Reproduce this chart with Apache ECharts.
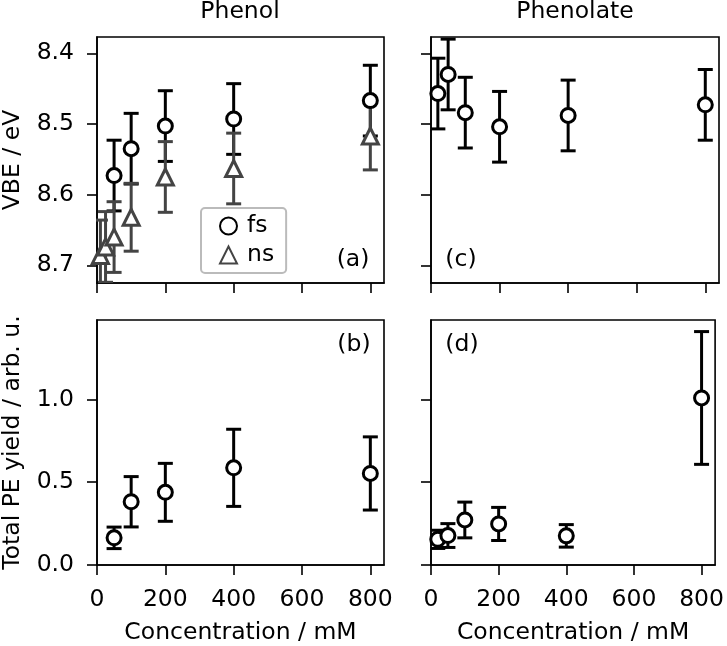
<!DOCTYPE html>
<html>
<head>
<meta charset="utf-8">
<script src="https://cdn.jsdelivr.net/npm/echarts@6/dist/echarts.min.js"></script>
<style>
html, body { margin: 0; padding: 0; background: #fff; }
#chart { width: 727px; height: 646px; }
</style>
</head>
<body>
<div id="chart"></div>
<script>
// tick labels
var xTicks = [0, 200, 400, 600, 800];
var vbeTicks = [8.4, 8.5, 8.6, 8.7];
var yieldTicks = [0.0, 0.5, 1.0];

// (a) phenol VBE
var phenolFsX = [50, 100, 200, 400, 800];
var phenolFsVBE = [8.573, 8.535, 8.503, 8.493, 8.467];
var phenolFsVBEErr = [0.05, 0.05, 0.05, 0.05, 0.05];
var phenolNsX = [10, 25, 50, 100, 200, 400, 800];
var phenolNsVBE = [8.686, 8.674, 8.660, 8.632, 8.575, 8.563, 8.517];
var phenolNsVBEErr = [0.05, 0.05, 0.05, 0.048, 0.05, 0.05, 0.048];

// (b) phenol yield
var phenolYield = [0.164, 0.382, 0.439, 0.587, 0.553];
var phenolYieldErr = [0.065, 0.152, 0.175, 0.233, 0.221];

// (c) phenolate VBE
var phenolateX = [20, 50, 100, 200, 400, 800];
var phenolateVBE = [8.457, 8.430, 8.484, 8.504, 8.488, 8.473];
var phenolateVBEErr = [0.05, 0.05, 0.05, 0.05, 0.05, 0.05];

// (d) phenolate yield
var phenolateYield = [0.155, 0.178, 0.272, 0.248, 0.176, 1.009];
var phenolateYieldErr = [0.055, 0.072, 0.108, 0.1, 0.068, 0.401];

var FONT = 'DejaVu Sans';
var FS = 23.5;

function zip(xs, ys, es) {
    return xs.map(function (x, i) { return [x, ys[i], es ? es[i] : 0]; });
}

function renderErr(params, api) {
    var x = api.value(0), y = api.value(1), e = api.value(2);
    var p1 = api.coord([x, y - e]);
    var p2 = api.coord([x, y + e]);
    var style = { stroke: api.visual('color'), lineWidth: 3 };
    var cap = 7.5;
    return {
        type: 'group',
        children: [
            { type: 'line', shape: { x1: p1[0], y1: p1[1], x2: p2[0], y2: p2[1] }, style: style },
            { type: 'line', shape: { x1: p1[0] - cap, y1: p1[1], x2: p1[0] + cap, y2: p1[1] }, style: style },
            { type: 'line', shape: { x1: p2[0] - cap, y1: p2[1], x2: p2[0] + cap, y2: p2[1] }, style: style }
        ]
    };
}

function xAxisOf(grid, showLabel) {
    return {
        type: 'value', gridIndex: grid, min: 0, max: 840,
        name: showLabel ? 'Concentration / mM' : '',
        nameLocation: 'middle', nameGap: 56,
        nameTextStyle: { fontFamily: FONT, fontSize: FS, color: '#000' },
        axisLine: { show: true, lineStyle: { color: '#000', width: 1.6 } },
        axisTick: { show: true, length: 10, customValues: xTicks, lineStyle: { color: '#000', width: 1.6 } },
        axisLabel: { show: showLabel, customValues: xTicks, margin: 23, fontFamily: FONT, fontSize: FS, color: '#000' },
        splitLine: { show: false }
    };
}

function yAxisOf(grid, top, showLabel, name) {
    return {
        type: 'value', gridIndex: grid,
        min: top ? 8.377 : 0, max: top ? 8.725 : 1.48, inverse: top,
        name: showLabel ? name : '',
        nameLocation: 'middle', nameGap: 72, nameRotate: 90,
        nameTextStyle: { fontFamily: FONT, fontSize: FS, color: '#000' },
        axisLine: { show: true, lineStyle: { color: '#000', width: 1.6 } },
        axisTick: { show: true, length: 10, customValues: top ? vbeTicks : yieldTicks, lineStyle: { color: '#000', width: 1.6 } },
        axisLabel: {
            show: showLabel, customValues: top ? vbeTicks : yieldTicks, margin: 23,
            fontFamily: FONT, fontSize: FS, color: '#000',
            formatter: function (v) { return v.toFixed(1); }
        },
        splitLine: { show: false }
    };
}

function errSeries(idx, data, color) {
    return {
        type: 'custom', name: 'err' + idx + color, xAxisIndex: idx, yAxisIndex: idx,
        renderItem: renderErr, data: data, clip: true,
        encode: { x: 0, y: 1 },
        itemStyle: { color: color }, silent: true, z: 2
    };
}

function markSeries(idx, name, data, symbol, color, size) {
    return {
        type: 'scatter', name: name, xAxisIndex: idx, yAxisIndex: idx,
        symbol: symbol, symbolSize: size, data: data, clip: true,
        itemStyle: { color: '#fff', borderColor: color, borderWidth: 3, opacity: 1 },
        z: 3
    };
}

var chart = echarts.init(document.getElementById('chart'));

var fsA = zip(phenolFsX, phenolFsVBE, phenolFsVBEErr);
var nsA = zip(phenolNsX, phenolNsVBE, phenolNsVBEErr);
var fsB = zip(phenolFsX, phenolYield, phenolYieldErr);
var fsC = zip(phenolateX, phenolateVBE, phenolateVBEErr);
var fsD = zip(phenolateX, phenolateYield, phenolateYieldErr);

var option = {
    backgroundColor: '#fff',
    animation: false,
    grid: [
        { left: 96, top: 37, width: 288, height: 246, show: true, borderColor: '#000', borderWidth: 1.6 },
        { left: 96, top: 320, width: 288, height: 247, show: true, borderColor: '#000', borderWidth: 1.6 },
        { left: 431, top: 37, width: 288, height: 246, show: true, borderColor: '#000', borderWidth: 1.6 },
        { left: 431, top: 320, width: 288, height: 247, show: true, borderColor: '#000', borderWidth: 1.6 }
    ],
    xAxis: [xAxisOf(0, false), xAxisOf(1, true), xAxisOf(2, false), xAxisOf(3, true)],
    yAxis: [
        yAxisOf(0, true, true, 'VBE / eV'),
        yAxisOf(1, false, true, 'Total PE yield / arb. u.'),
        yAxisOf(2, true, false, ''),
        yAxisOf(3, false, false, '')
    ],
    legend: {
        data: ['fs', 'ns'], orient: 'vertical', left: 201, top: 208,
        padding: [6, 12, 6, 18], itemGap: 5, itemWidth: 17, itemHeight: 17,
        borderColor: '#bbb', borderWidth: 2, borderRadius: 4, backgroundColor: '#fff',
        selectedMode: false,
        textStyle: { fontFamily: FONT, fontSize: FS, color: '#000', padding: [0, 0, 0, 5] }
    },
    graphic: [
        { type: 'text', x: 240, y: 12, style: { text: 'Phenol', fontFamily: FONT, fontSize: FS, fill: '#000', textAlign: 'center', textVerticalAlign: 'middle' } },
        { type: 'text', x: 575, y: 12, style: { text: 'Phenolate', fontFamily: FONT, fontSize: FS, fill: '#000', textAlign: 'center', textVerticalAlign: 'middle' } },
        { type: 'text', x: 353, y: 260, style: { text: '(a)', fontFamily: FONT, fontSize: FS, fill: '#000', textAlign: 'center', textVerticalAlign: 'middle' } },
        { type: 'text', x: 354, y: 345, style: { text: '(b)', fontFamily: FONT, fontSize: FS, fill: '#000', textAlign: 'center', textVerticalAlign: 'middle' } },
        { type: 'text', x: 461, y: 260, style: { text: '(c)', fontFamily: FONT, fontSize: FS, fill: '#000', textAlign: 'center', textVerticalAlign: 'middle' } },
        { type: 'text', x: 462, y: 345, style: { text: '(d)', fontFamily: FONT, fontSize: FS, fill: '#000', textAlign: 'center', textVerticalAlign: 'middle' } }
    ],
    series: [
        markSeries(0, 'fs', fsA, 'circle', '#000', 14),
        markSeries(0, 'ns', nsA, 'triangle', '#444', 16),
        errSeries(0, fsA, '#000'),
        errSeries(0, nsA, '#444'),
        errSeries(1, fsB, '#000'),
        markSeries(1, 'fs', fsB, 'circle', '#000', 14),
        errSeries(2, fsC, '#000'),
        markSeries(2, 'fs', fsC, 'circle', '#000', 14),
        errSeries(3, fsD, '#000'),
        markSeries(3, 'fs', fsD, 'circle', '#000', 14)
    ]
};
chart.setOption(option);
</script>
</body>
</html>
